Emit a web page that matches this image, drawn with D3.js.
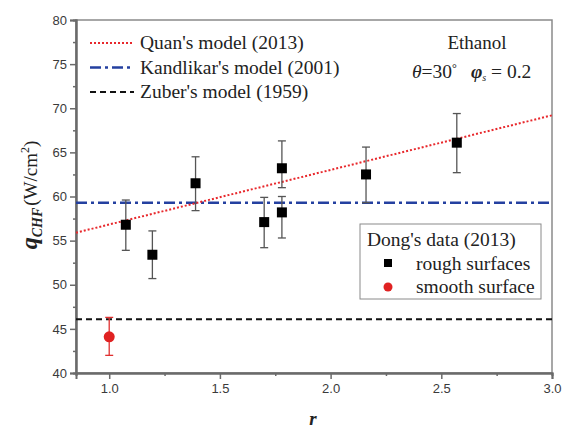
<!DOCTYPE html>
<html><head><meta charset="utf-8">
<script src="https://cdn.jsdelivr.net/npm/d3@7"></script>
</head><body style="margin:0">
<svg id="c" width="562" height="428" font-family="Liberation Serif"></svg>
<script>
// ---- data ----
const roughR  = [1.075, 1.195, 1.39, 1.70, 1.78, 1.78, 2.16, 2.57];
const roughQ  = [56.8, 53.4, 61.5, 57.1, 63.2, 58.2, 62.5, 66.1];
const roughLo = [53.9, 50.7, 58.4, 54.2, 61.0, 55.3, 59.3, 62.7];
const roughHi = [59.6, 56.1, 64.5, 59.9, 66.3, 60.0, 65.6, 69.4];
const smoothR  = [1.0];
const smoothQ  = [44.1];
const smoothLo = [42.0];
const smoothHi = [46.3];
const quanR = [0.85, 3.0];
const quanQ = [55.9, 69.2];
const kandlikarQ = 59.3;
const zuberQ = 46.1;
const xTicks = [1.0, 1.5, 2.0, 2.5, 3.0];
const xMinor = [1.25, 1.75, 2.25, 2.75];
const yTicks = [40, 45, 50, 55, 60, 65, 70, 75, 80];
const yMinor = [42.5, 47.5, 52.5, 57.5, 62.5, 67.5, 72.5, 77.5];
const modelNames = ["Quan's model (2013)", "Kandlikar's model (2001)", "Zuber's model (1959)"];

const SANS = "Liberation Sans";
const svg = d3.select("#c");
const L = 76, R = 552, T = 20, B = 373;
const x = d3.scaleLinear().domain([0.85, 3.0]).range([L, R]);
const y = d3.scaleLinear().domain([40, 80]).range([B, T]);
const axisCol = "#6a6a6a";

// frame
svg.append("rect").attr("x", L).attr("y", T).attr("width", R - L).attr("height", B - T)
  .attr("fill", "none").attr("stroke", "#8a8a8a").attr("stroke-width", 1.5);

// axes
const xAxis = d3.axisBottom(x).tickValues(xTicks).tickFormat(d3.format(".1f")).tickSize(6).tickPadding(5);
const gx = svg.append("g").attr("transform", `translate(0,${B})`).call(xAxis);
const gxm = svg.append("g").attr("transform", `translate(0,${B})`)
  .call(d3.axisBottom(x).tickValues(xMinor).tickFormat("").tickSize(3));
const yAxis = d3.axisLeft(y).tickValues(yTicks).tickSize(6).tickPadding(3);
const gy = svg.append("g").attr("transform", `translate(${L},0)`).call(yAxis);
const gym = svg.append("g").attr("transform", `translate(${L},0)`)
  .call(d3.axisLeft(y).tickValues(yMinor).tickFormat("").tickSize(3));
[gx, gxm, gy, gym].forEach(g => {
  g.attr("font-family", SANS).attr("font-size", 13);
  g.select(".domain").attr("stroke", axisCol).attr("stroke-width", 2);
  g.selectAll(".tick line").attr("stroke", axisCol).attr("stroke-width", 1.5);
  g.selectAll("text").attr("fill", "#3a3a3a");
});

// model lines
const plot = svg.append("g");
plot.append("line").attr("x1", L).attr("x2", R).attr("y1", y(zuberQ)).attr("y2", y(zuberQ))
  .attr("stroke", "#111").attr("stroke-width", 2).attr("stroke-dasharray", "6,4");
plot.append("line").attr("x1", L).attr("x2", R).attr("y1", y(kandlikarQ)).attr("y2", y(kandlikarQ))
  .attr("stroke", "#2440a0").attr("stroke-width", 2.5).attr("stroke-dasharray", "11,4,3,4");
const quan = quanR.map((r, i) => [r, quanQ[i]]);
plot.append("path").datum(quan)
  .attr("d", d3.line().x(d => x(d[0])).y(d => y(d[1])))
  .attr("fill", "none").attr("stroke", "#e8282c").attr("stroke-width", 2).attr("stroke-dasharray", "2,2");

// error bars
function errBars(rs, lo, hi, col) {
  rs.forEach((r, i) => {
    const g = plot.append("g").attr("stroke", col).attr("stroke-width", 1.3);
    g.append("line").attr("x1", x(r)).attr("x2", x(r)).attr("y1", y(lo[i])).attr("y2", y(hi[i]));
    g.append("line").attr("x1", x(r) - 4).attr("x2", x(r) + 4).attr("y1", y(lo[i])).attr("y2", y(lo[i]));
    g.append("line").attr("x1", x(r) - 4).attr("x2", x(r) + 4).attr("y1", y(hi[i])).attr("y2", y(hi[i]));
  });
}
errBars(roughR, roughLo, roughHi, "#555");
errBars(smoothR, smoothLo, smoothHi, "#e03030");
roughR.forEach((r, i) => {
  plot.append("rect").attr("x", x(r) - 5).attr("y", y(roughQ[i]) - 5).attr("width", 10).attr("height", 10).attr("fill", "#000");
});
smoothR.forEach((r, i) => {
  plot.append("circle").attr("cx", x(r)).attr("cy", y(smoothQ[i])).attr("r", 5.5).attr("fill", "#e02222");
});

function stext(sel, px) {
  return sel.attr("font-family", "Liberation Serif").attr("font-size", px).attr("fill", "#222");
}

// model legend
const legY = [43, 67.5, 92];
const lg = svg.append("g");
[["#e8282c", "2,2", 2], ["#2440a0", "11,4,3,4", 2.5], ["#111", "6,4", 2]].forEach((s, i) => {
  lg.append("line").attr("x1", 90).attr("x2", 134).attr("y1", legY[i]).attr("y2", legY[i])
    .attr("stroke", s[0]).attr("stroke-dasharray", s[1]).attr("stroke-width", s[2]);
  stext(lg.append("text"), 19.5).attr("x", 140).attr("y", legY[i] + 6).text(modelNames[i]);
});

// annotation
stext(svg.append("text"), 19).attr("x", 477).attr("y", 48.5).attr("text-anchor", "middle").text("Ethanol");
const ann = stext(svg.append("text"), 19.5).attr("x", 412).attr("y", 78);
ann.append("tspan").text("θ").attr("font-style", "italic");
ann.append("tspan").text("=30");
ann.append("tspan").text("°").attr("dy", -6).attr("font-size", 12);
ann.append("tspan").text("φ").attr("dx", 14).attr("dy", 6).attr("font-style", "italic").attr("font-weight", "bold");
ann.append("tspan").text("s").attr("dy", 3).attr("font-size", 10).attr("font-style", "italic");
ann.append("tspan").text(" = 0.2").attr("dy", -3);

// data legend
const dl = svg.append("g");
dl.append("rect").attr("x", 360).attr("y", 224).attr("width", 181).attr("height", 75)
  .attr("fill", "#fff").attr("stroke", "#8a8a8a").attr("stroke-width", 1);
stext(dl.append("text"), 19.5).attr("x", 367).attr("y", 246).text("Dong's data (2013)");
dl.append("rect").attr("x", 384).attr("y", 259).attr("width", 8).attr("height", 8).attr("fill", "#000");
stext(dl.append("text"), 19.5).attr("x", 416).attr("y", 270).text("rough surfaces");
dl.append("circle").attr("cx", 388).attr("cy", 287).attr("r", 4.5).attr("fill", "#e02222");
stext(dl.append("text"), 19.5).attr("x", 416).attr("y", 293).text("smooth surface");

// axis titles
stext(svg.append("text"), 19).attr("x", 313).attr("y", 425).attr("text-anchor", "middle").text("r")
  .attr("font-style", "italic").attr("font-weight", "bold");
const yl = stext(svg.append("text"), 19).attr("transform", "translate(37,195) rotate(-90)").attr("text-anchor", "middle");
yl.append("tspan").text("q").attr("font-size", 24).attr("font-style", "italic").attr("font-weight", "bold");
yl.append("tspan").text("CHF").attr("dy", 5).attr("font-size", 14).attr("font-style", "italic").attr("font-weight", "bold");
yl.append("tspan").text("(W/cm").attr("dx", 2).attr("dy", -5);
yl.append("tspan").text("2").attr("dy", -8).attr("font-size", 12);
yl.append("tspan").text(")").attr("dy", 8);
</script>
</body></html>
